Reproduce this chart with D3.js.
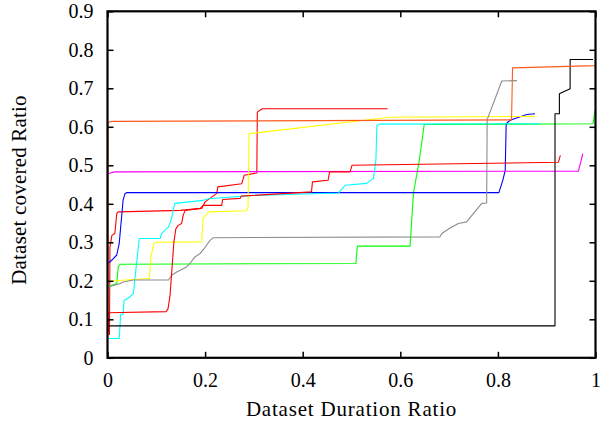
<!DOCTYPE html>
<html>
<head>
<meta charset="utf-8">
<script src="https://cdn.jsdelivr.net/npm/d3@7"></script>
<style>
  html, body { margin: 0; padding: 0; background: #fff; }
  svg text { font-family: "Liberation Serif", "Times New Roman", serif; fill: #000; }
</style>
</head>
<body>
<svg id="chart" width="608" height="423"></svg>
<script>
// ---------------- data ----------------
const xTicks = [0, 0.2, 0.4, 0.6, 0.8, 1];
const yTicks = [0, 0.1, 0.2, 0.3, 0.4, 0.5, 0.6, 0.7, 0.8, 0.9];
const xTickLabels = ["0", "0.2", "0.4", "0.6", "0.8", "1"];
const yTickLabels = ["0", "0.1", "0.2", "0.3", "0.4", "0.5", "0.6", "0.7", "0.8", "0.9"];
const xTitle = "Dataset Duration Ratio";
const yTitle = "Dataset covered Ratio";

// series (x = duration ratio, y = covered ratio)
const redA = [[0.004,0.059],[0.005,0.288],[0.009,0.318],[0.015,0.323],[0.019,0.375],[0.022,0.379],[0.149,0.383],
  [0.193,0.388],[0.2,0.405],[0.224,0.427],[0.226,0.444],[0.275,0.452],[0.28,0.474],[0.306,0.48],[0.307,0.638],
  [0.317,0.647],[0.574,0.647]];
const green = [[0.003,0.186],[0.019,0.193],[0.022,0.236],[0.026,0.243],[0.509,0.245],[0.512,0.29],[0.62,0.29],
  [0.627,0.428],[0.639,0.513],[0.649,0.606],[0.995,0.608],[0.999,0.643]];
const blue = [[0.002,0.246],[0.009,0.254],[0.019,0.267],[0.024,0.297],[0.032,0.41],[0.036,0.427],[0.04,0.429],
  [0.802,0.429],[0.81,0.461],[0.815,0.487],[0.817,0.608],[0.825,0.617],[0.859,0.632],[0.876,0.634]];
const magenta = [[0.0,0.478],[0.015,0.483],[0.965,0.485],[0.974,0.53]];
const cyan = [[0.0,0.05],[0.024,0.05],[0.027,0.113],[0.032,0.113],[0.034,0.149],[0.046,0.158],[0.053,0.167],
  [0.065,0.31],[0.108,0.31],[0.111,0.323],[0.125,0.34],[0.131,0.36],[0.135,0.385],[0.138,0.401],[0.196,0.409],
  [0.207,0.413],[0.3,0.422],[0.367,0.424],[0.473,0.428],[0.487,0.448],[0.531,0.453],[0.545,0.466],[0.55,0.513],
  [0.552,0.604],[0.558,0.607],[0.885,0.608]];
const yellow = [[0.0,0.199],[0.086,0.206],[0.089,0.262],[0.095,0.297],[0.101,0.3],[0.193,0.301],[0.196,0.362],
  [0.207,0.379],[0.285,0.382],[0.288,0.39],[0.29,0.582],[0.579,0.625],[0.876,0.627]];
const black = [[0.0,0.083],[0.917,0.083],[0.917,0.634],[0.926,0.634],[0.926,0.686],[0.948,0.699],[0.948,0.775],
  [0.995,0.775]];
const orange = [[0.001,0.065],[0.001,0.612],[0.01,0.614],[0.828,0.618],[0.83,0.753],[1.0,0.759],[1.0,0.85]];
const grey = [[0.0,0.183],[0.026,0.193],[0.032,0.197],[0.053,0.202],[0.125,0.202],[0.132,0.215],[0.142,0.223],
  [0.162,0.236],[0.169,0.245],[0.179,0.262],[0.19,0.271],[0.2,0.287],[0.21,0.305],[0.217,0.312],[0.681,0.314],
  [0.685,0.323],[0.702,0.337],[0.719,0.349],[0.736,0.353],[0.75,0.375],[0.767,0.401],[0.777,0.402],[0.778,0.621],
  [0.78,0.625],[0.808,0.719],[0.839,0.72]];
const redB = [[0.001,0.06],[0.001,0.117],[0.12,0.12],[0.124,0.127],[0.128,0.16],[0.136,0.3],[0.14,0.335],
  [0.145,0.344],[0.152,0.349],[0.155,0.37],[0.159,0.383],[0.19,0.388],[0.196,0.396],[0.234,0.396],[0.236,0.411],
  [0.272,0.414],[0.274,0.42],[0.367,0.427],[0.418,0.431],[0.42,0.457],[0.452,0.461],[0.455,0.483],[0.497,0.483],
  [0.501,0.5],[0.825,0.506],[0.924,0.508],[0.928,0.526]];

const seriesList = [
  {name: "s1", pts: redA, color: "#ff0000"},
  {name: "s2", pts: green, color: "#00ff00"},
  {name: "s3", pts: blue, color: "#0000ff"},
  {name: "s4", pts: magenta, color: "#ff00ff"},
  {name: "s5", pts: cyan, color: "#00ffff"},
  {name: "s6", pts: yellow, color: "#ffff00"},
  {name: "s7", pts: black, color: "#000000"},
  {name: "s8", pts: orange, color: "#ff5a1e"},
  {name: "s9", pts: grey, color: "#8c8c8c"},
  {name: "s10", pts: redB, color: "#ff0000"}
];

// ---------------- layout ----------------
const svg = d3.select("#chart");
const L = 107.5, R = 595.5, T = 11.3, B = 357.8;
const x = d3.scaleLinear().domain([0, 1]).range([L, R]);
const y = d3.scaleLinear().domain([0, 0.9]).range([B, T]);

// series
const line = d3.line().x(d => x(d[0])).y(d => y(d[1]));
svg.append("g").selectAll("path").data(seriesList).join("path")
  .attr("d", d => line(d.pts))
  .attr("fill", "none")
  .attr("stroke", d => d.color)
  .attr("stroke-width", 1.1)
  .attr("stroke-linejoin", "round");

// axes (ticks inward, mirrored)
const tickLen = 6;
const fmtX = (d, i) => xTickLabels[i];
const fmtY = (d, i) => yTickLabels[i];

const gB = svg.append("g").attr("transform", `translate(0,${B})`)
  .call(d3.axisBottom(x).tickValues(xTicks).tickFormat(fmtX).tickSize(-tickLen).tickPadding(15));
const gT = svg.append("g").attr("transform", `translate(0,${T})`)
  .call(d3.axisTop(x).tickValues(xTicks).tickFormat("").tickSize(-tickLen));
const gL = svg.append("g").attr("transform", `translate(${L},0)`)
  .call(d3.axisLeft(y).tickValues(yTicks).tickFormat(fmtY).tickSize(-tickLen).tickPadding(14));
const gR = svg.append("g").attr("transform", `translate(${R},0)`)
  .call(d3.axisRight(y).tickValues(yTicks).tickFormat("").tickSize(-tickLen));

[gB, gT, gL, gR].forEach(g => {
  g.select(".domain").remove();
  g.selectAll(".tick line").attr("stroke", "#000").attr("stroke-width", 1.5);
  g.selectAll("text").style("font-size", "20px").style("font-family", '"Liberation Serif", serif').attr("fill", "#000");
});

// frame
svg.append("rect")
  .attr("x", L).attr("y", T).attr("width", R - L).attr("height", B - T)
  .attr("fill", "none").attr("stroke", "#000").attr("stroke-width", 2.2);

// titles
svg.append("text")
  .attr("x", (L + R) / 2).attr("y", 416)
  .attr("text-anchor", "middle")
  .style("font-size", "21px").style("letter-spacing", "0.8px")
  .text(xTitle);
svg.append("text")
  .attr("transform", `translate(26,190) rotate(-90)`)
  .attr("text-anchor", "middle")
  .style("font-size", "21px").style("letter-spacing", "0.2px")
  .text(yTitle);
</script>
</body>
</html>
